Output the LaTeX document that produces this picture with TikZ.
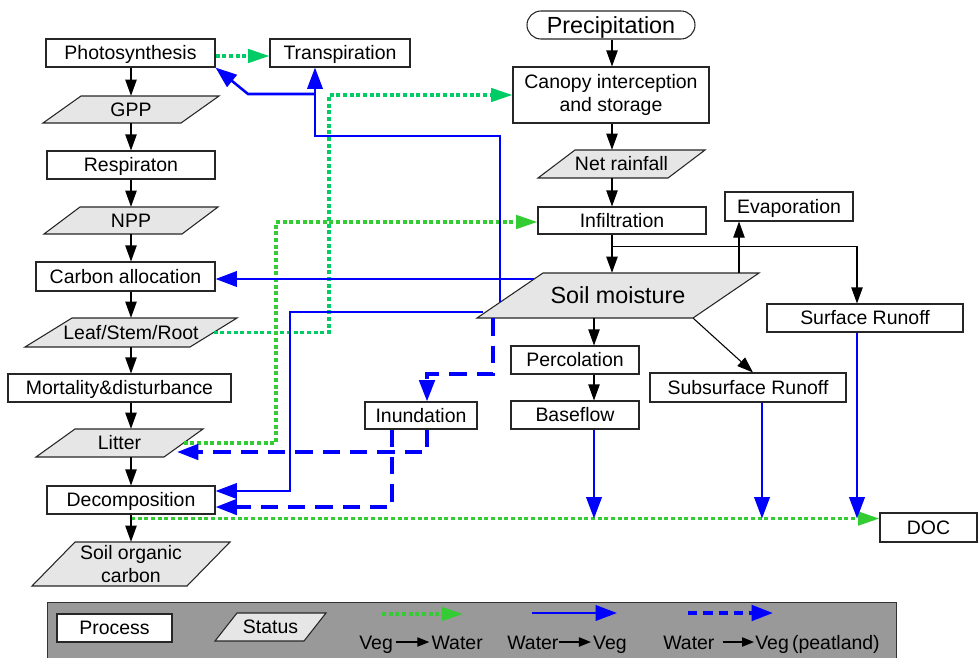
\documentclass[tikz,border=0pt]{standalone}
\usepackage{fontspec}
\setmainfont{Liberation Sans}
\usetikzlibrary{arrows.meta,calc}
\definecolor{grnA}{RGB}{0,204,102}
\definecolor{grnB}{RGB}{51,204,51}
\definecolor{statgray}{RGB}{230,230,230}
\definecolor{leggray}{RGB}{153,153,153}
\definecolor{bl}{RGB}{0,0,255}
\newcommand\myfn{\fontsize{14.6pt}{17.5pt}\selectfont}
\newcommand\myfb{\fontsize{17.5pt}{21pt}\selectfont}
\newcommand\statbox[8][]{%
  \path[fill=statgray,draw=black!85,line width=0.8pt]
    (#3-#5/2-#7/2,#4+#6/2) -- (#3+#5/2-#7/2,#4+#6/2) --
    (#3+#5/2+#7/2,#4-#6/2) -- (#3-#5/2+#7/2,#4-#6/2) -- cycle;
  \node[stxt,sz={#5}{#6},#1] (#2) at (#3,#4) {#8};}
\begin{document}
\begin{tikzpicture}[x=0.75pt,y=-0.75pt,
  sz/.style n args={2}{minimum width=#1*0.75pt,minimum height=#2*0.75pt},
  box/.style={draw=black!85,line width=0.8pt,fill=white,inner sep=0pt,font=\myfn},
  tl/.style={text height=10.45pt,text depth=0pt},
  stxt/.style={inner sep=0pt,font=\myfn,align=center},
  ltxt/.style={inner sep=0pt,font=\myfn},
  blk/.style={draw=black,line width=0.8pt,-{Triangle[length=12pt,width=8.5pt]}},
  sblk/.style={draw=black,line width=0.9pt,-{Triangle[length=9pt,width=7pt]}},
  blu/.style={draw=bl,line width=1.9pt,-{Triangle[length=16pt,width=11.5pt]}},
  bld/.style={draw=bl,line width=2.8pt,dash pattern=on 13pt off 7.5pt,-{Triangle[length=16pt,width=11.5pt]}},
  grn/.style={line width=2.6pt,dash pattern=on 3pt off 2pt,-{Triangle[length=16pt,width=10pt]}}]
\useasboundingbox (0,0) rectangle (978,657);
\fill[white] (0,0) rectangle (978,657);

% ---------- left column ----------
\node[box,tl,sz={169}{28}] (photo) at (130.5,53) {Photosynthesis};
\node[box,tl,sz={140}{28}] (transp) at (340,53) {Transpiration};
\statbox[tl]{gpp}{131}{109.5}{138}{27}{38}{GPP}
\node[box,tl,sz={168}{28}] (resp) at (131,165) {Respiraton};
\statbox[tl]{npp}{131}{220.5}{138}{27}{36}{NPP}
\node[box,tl,sz={179}{29}] (carbon) at (125.5,276.5) {Carbon allocation};
\statbox[tl]{lsr}{131}{332.5}{165}{29}{47}{Leaf/Stem/Root}
\node[box,tl,sz={223}{28}] (mort) at (119.5,388) {Mortality\&disturbance};
\statbox[tl]{litter}{119.5}{443}{128}{28}{39}{Litter}
\node[box,tl,sz={168}{28}] (decomp) at (131,500) {Decomposition};
\statbox{soc}{131}{564}{155}{44}{43}{Soil organic\\carbon}

% ---------- right part ----------
\node[box,sz={168}{28},rounded corners=10.5pt,font=\myfb,text height=12.5pt,text depth=0pt] (precip) at (611,25) {Precipitation};
\node[box,sz={196}{56},align=center] (canopy) at (611,95) {Canopy interception\\and storage};
\statbox[tl]{net}{621.5}{164}{130}{28}{37}{Net rainfall}
\node[box,tl,sz={168}{27}] (infil) at (622,220.5) {Infiltration};
\node[box,tl,sz={128}{29}] (evap) at (789,206.5) {Evaporation};
\statbox[font=\myfb,text height=12.5pt,text depth=0pt]{soil}{618}{295.5}{216}{45}{66}{Soil moisture}
\node[box,tl,sz={196}{28}] (surf) at (865,318) {Surface Runoff};
\node[box,tl,sz={128}{28}] (perc) at (575,360) {Percolation};
\node[box,tl,sz={196}{29}] (subsurf) at (748,387.5) {Subsurface Runoff};
\node[box,tl,sz={128}{28}] (base) at (575,415) {Baseflow};
\node[box,tl,sz={112}{27}] (inund) at (421,415.5) {Inundation};
\node[box,tl,sz={97}{29}] (doc) at (928.5,527.5) {DOC};

% ---------- helper coordinates ----------
\coordinate (lc) at (131,0);
\coordinate (rc) at (612,0);
\coordinate (px) at (594,0);
\coordinate (evx) at (739,0);
\coordinate (srx) at (857,0);
\coordinate (ssx) at (762,0);
\coordinate (tx) at (315,0);
\coordinate (dline) at ($(decomp.south)+(0,4)$);

% ---------- green dotted (veg -> water) ----------
\coordinate (g2) at (329,0);
\coordinate (g3) at (276,0);
\draw[grn,grnA] ($(photo.east)+(0,3)$) -- ($(transp.west)+(0,3)$);
\draw[grn,grnA] (lsr.east) -| (g2 |- canopy.west) -- (canopy.west);
\draw[grn,grnB] (litter.east) -| ($(g3 |- infil.west)+(0,1.5)$) -- ($(infil.west)+(0,1.5)$);
\draw[grn,grnB] (dline) -- (dline -| doc.west);

% ---------- black arrows ----------
\draw[blk] (photo.south -| lc) -- (gpp.north -| lc);
\draw[blk] (gpp.south -| lc) -- (resp.north -| lc);
\draw[blk] (resp.south -| lc) -- (npp.north -| lc);
\draw[blk] (npp.south -| lc) -- (carbon.north -| lc);
\draw[blk] (carbon.south -| lc) -- (lsr.north -| lc);
\draw[blk] (lsr.south -| lc) -- (mort.north -| lc);
\draw[blk] (mort.south -| lc) -- (litter.north -| lc);
\draw[blk] (litter.south -| lc) -- (decomp.north -| lc);
\draw[blk] (decomp.south -| lc) -- (soc.north -| lc);
\draw[blk] (precip.south -| rc) -- (canopy.north -| rc);
\draw[blk] (canopy.south -| rc) -- (net.north -| rc);
\draw[blk] (net.south -| rc) -- (infil.north -| rc);
\draw[blk] (infil.south -| rc) -- (soil.north -| rc);
\draw[blk] ($(infil.south -| rc)+(0,12)$) -| (surf.north -| srx);
\draw[blk] (soil.north -| evx) -- (evap.south -| evx);
\draw[blk] (soil.south -| px) -- (perc.north -| px);
\draw[blk] (perc.south -| px) -- (base.north -| px);
\draw[blk] ($(soil.south east)+(-33,0)$) -- ($(subsurf.north)+(5,0)$);

% ---------- blue solid (water -> veg) ----------
\coordinate (b1) at (500,302);
\coordinate (j1) at (315,94);
\draw[blu] (b1) -- ++(0,-166) -| (transp.south -| tx);
\draw[blu] (j1) -- (248,94) -- (photo.south east);
\coordinate (b2) at (534,279);
\draw[blu] (b2) -- (b2 -| carbon.east);
\coordinate (b3) at (483,312);
\coordinate (b3e) at (290,491);
\draw[blu] (b3) -- (b3 -| b3e) -- (b3e) -- (b3e -| decomp.east);
\draw[blu] (base.south -| px) -- (px |- dline);
\draw[blu] (subsurf.south -| ssx) -- (ssx |- dline);
\draw[blu] (surf.south -| srx) -- (srx |- dline);

% ---------- blue dashed (peatland) ----------
\coordinate (dx1) at (493,374);
\coordinate (ix) at (427,0);
\coordinate (ix2) at (392,0);
\coordinate (lt) at (177,452);
\draw[bld] (soil.south -| dx1) -- (dx1) -| (inund.north -| ix);
\draw[bld] (inund.south -| ix) |- (lt);
\draw[bld] (inund.south -| ix2) |- ($(decomp.east)+(0,7)$);

% ---------- legend ----------
\node[draw=black!80,line width=0.8pt,fill=leggray,sz={849}{62},anchor=north west,inner sep=0pt] (legend) at (47,602) {};
\node[box,tl,sz={115}{28}] (lproc) at (114.5,628) {Process};
\statbox[tl]{lstat}{270.5}{627}{89}{28}{22}{Status}
\coordinate (lg1) at (382,614); \coordinate (lg2) at (463,614);
\draw[grn,grnB] (lg1) -- (lg2);
\coordinate (lb1) at (532,613); \coordinate (lb2) at (617,613);
\draw[blu] (lb1) -- (lb2);
\coordinate (ld1) at (688,613); \coordinate (ld2) at (773,613);
\draw[bld,dash pattern=on 7pt off 4.5pt] (ld1) -- (ld2);
\node[ltxt,anchor=base west] (lv1) at (359,649) {Veg};
\node[ltxt,anchor=base east] (lw1) at (483,649) {Water};
\draw[sblk] ($(lv1.base east)+(3,-7)$) -- ($(lw1.base west)+(-2,-7)$);
\node[ltxt,anchor=base west] (lw2) at (507,649) {Water};
\node[ltxt,anchor=base east] (lv2) at (627,649) {Veg};
\draw[sblk] ($(lw2.base east)+(0,-7)$) -- ($(lv2.base west)+(-2,-7)$);
\node[ltxt,anchor=base west] (lw3) at (663,649) {Water};
\node[ltxt,anchor=base west] (lv3) at (755,649) {Veg\,(peatland)};
\draw[sblk] ($(lw3.base east)+(8,-7)$) -- ($(lv3.base west)+(-1,-7)$);
\end{tikzpicture}
\end{document}
